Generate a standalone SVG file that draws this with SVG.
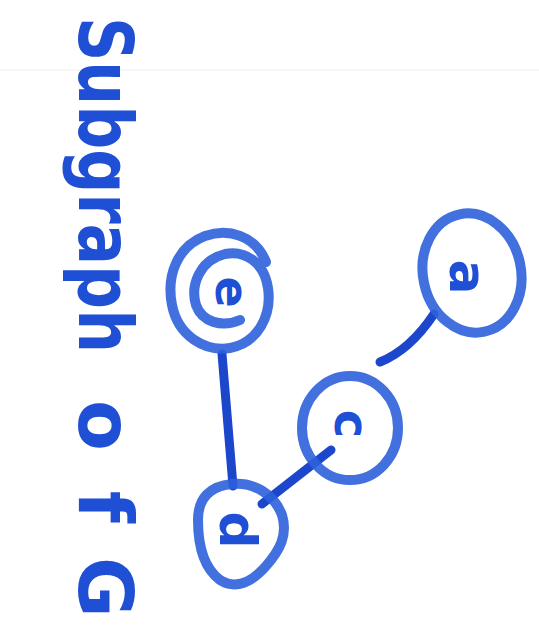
<svg xmlns="http://www.w3.org/2000/svg" width="539" height="634" viewBox="0 0 539 634">
<style>
.ring{fill:none;stroke:#2d62dc;stroke-width:10;stroke-linecap:round;stroke-linejoin:round;opacity:0.9}
.edge{fill:none;stroke:#1c47cc;stroke-width:9;stroke-linecap:round}
.lbl{font-family:"DejaVu Sans",sans-serif;font-weight:bold;fill:#1f4fd4;text-anchor:middle;dominant-baseline:central}
.title{font-family:"DejaVu Sans",sans-serif;font-weight:bold;fill:#1f4fd4;font-size:74px}
</style>
<rect width="539" height="634" fill="#ffffff"/>
<line x1="0" y1="70" x2="539" y2="70" stroke="#eeeeee" stroke-width="1"/>
<text class="title" transform="translate(79,17) rotate(90)"><tspan x="0" textLength="336" lengthAdjust="spacingAndGlyphs">Subgraph</tspan> <tspan x="383" textLength="123" lengthAdjust="spacing">of</tspan> <tspan x="540">G</tspan></text>
<g id="connectors">
<path class="edge" d="M222,354 L233,486"/>
<path class="edge" d="M262,504 L331,450"/>
<path class="edge" d="M380,362 Q410,350 434,314"/>
</g>
<g id="node-e">
<path class="ring" d="M266,262 C255,235 228,228 205,236 C178,246 166,275 172,305 C178,336 205,352 230,348 C258,343 272,315 268,288 C264,262 245,250 225,254 C200,260 190,285 196,305 C202,322 222,328 240,320"/>
<text class="lbl" font-size="46" transform="translate(232,292) rotate(90)">e</text>
</g>
<g id="node-a">
<ellipse class="ring" cx="472" cy="273" rx="49" ry="60" transform="rotate(-12 472 273)"/>
<text class="lbl" font-size="52" transform="translate(468,277) rotate(90)">a</text>
</g>
<g id="node-c">
<ellipse class="ring" cx="350" cy="428" rx="48" ry="52"/>
<text class="lbl" font-size="48" transform="translate(352,424) rotate(90)">c</text>
</g>
<g id="node-d">
<path class="ring" d="M232,484 C210,486 198,498 198,520 C198,545 204,568 220,580 C236,590 252,582 266,566 C280,550 288,535 282,515 C274,494 254,482 232,484 Z"/>
<text class="lbl" font-size="52" transform="translate(238,530) rotate(90)">d</text>
</g>
</svg>
